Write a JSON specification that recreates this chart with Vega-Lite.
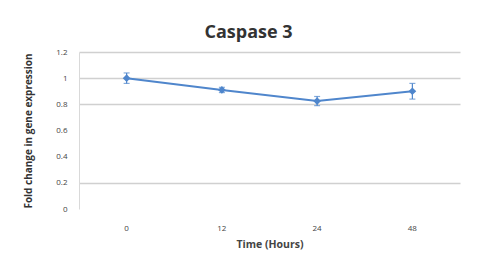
{
  "$schema": "https://vega.github.io/schema/vega-lite/v6.json",
  "width": 381,
  "height": 157,
  "padding": {"left": 23, "top": 24, "right": 18, "bottom": 10},
  "background": "white",
  "title": {"text": "Caspase 3", "fontSize": 18, "font": "Open Sans", "fontWeight": "bold", "color": "#333333", "offset": 6, "frame": "group", "dx": -21},
  "data": {"values": [
    {"time": "0", "fold": 1.0, "lo": 0.96, "hi": 1.04},
    {"time": "12", "fold": 0.91, "lo": 0.89, "hi": 0.93},
    {"time": "24", "fold": 0.825, "lo": 0.79, "hi": 0.86},
    {"time": "48", "fold": 0.90, "lo": 0.84, "hi": 0.96}
  ]},
  "encoding": {
    "x": {"field": "time", "type": "ordinal", "sort": null,
      "axis": {"title": "Time (Hours)", "labelAngle": 0, "domain": false, "ticks": false, "labelPadding": 15, "labelFontSize": 8, "labelFont": "Open Sans", "labelColor": "#444444", "titleFont": "Open Sans", "titleFontSize": 10.5, "titleFontWeight": "bold", "titleColor": "#444444", "titlePadding": 7}}
  },
  "layer": [
    {
      "mark": {"type": "line", "color": "#4f86cc", "strokeWidth": 2, "point": {"shape": "diamond", "size": 60, "filled": true, "color": "#4f86cc"}},
      "encoding": {
        "y": {"field": "fold", "type": "quantitative", "scale": {"domain": [0, 1.2]},
          "axis": {"title": "Fold change in gene expression", "values": [0, 0.2, 0.4, 0.6, 0.8, 1, 1.2], "format": "~g", "labelOverlap": false,
            "grid": true, "gridColor": "#d0d0d0", "gridWidth": 1.5,
            "gridOpacity": {"expr": "datum.value == 0.4 || datum.value == 0.6 || datum.value == 0 ? 0 : 1"},
            "domain": true, "domainColor": "#d9d9d9", "ticks": false, "labelPadding": 12, "labelFontSize": 8, "labelFont": "Open Sans", "labelColor": "#444444",
            "titleFont": "Open Sans", "titleFontSize": 10, "titleFontWeight": "bold", "titleColor": "#333333", "titlePadding": 22}}
      }
    },
    {
      "mark": {"type": "errorbar", "ticks": {"size": 6}, "color": "#4f86cc", "thickness": 1.2},
      "encoding": {
        "y": {"field": "lo", "type": "quantitative",
          "axis": {"title": "Fold change in gene expression", "values": [0, 0.2, 0.4, 0.6, 0.8, 1, 1.2], "format": "~g", "labelOverlap": false,
            "grid": true, "gridColor": "#d0d0d0", "gridWidth": 1.5,
            "gridOpacity": {"expr": "datum.value == 0.4 || datum.value == 0.6 || datum.value == 0 ? 0 : 1"},
            "domain": true, "domainColor": "#d9d9d9", "ticks": false, "labelPadding": 12, "labelFontSize": 8, "labelFont": "Open Sans", "labelColor": "#444444",
            "titleFont": "Open Sans", "titleFontSize": 10, "titleFontWeight": "bold", "titleColor": "#333333", "titlePadding": 22}},
        "y2": {"field": "hi"}
      }
    }
  ],
  "config": {"view": {"stroke": null}}
}
